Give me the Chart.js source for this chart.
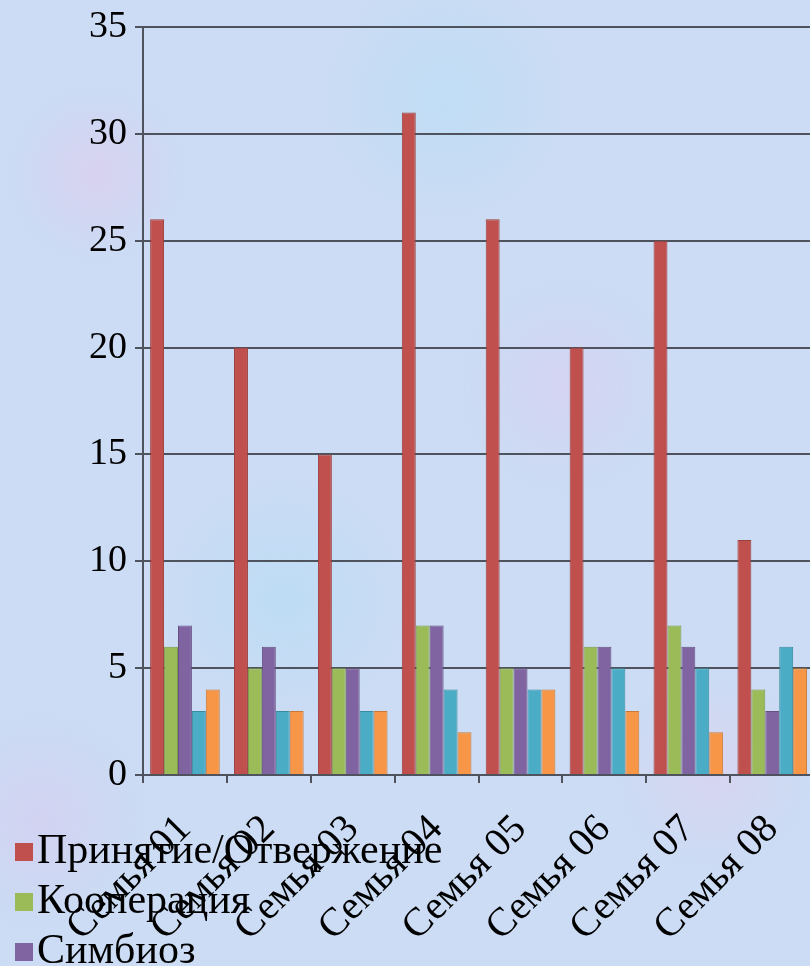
<!DOCTYPE html>
<html>
<head>
<meta charset="utf-8">
<script src="https://cdn.jsdelivr.net/npm/chart.js@4"></script>
<style>
  html, body { margin: 0; padding: 0; width: 810px; height: 966px; overflow: hidden; }
  body {
    background-color: #cbdcf4;
    background-image:
      radial-gradient(circle at 12% 18%, rgba(226, 200, 236, 0.55) 0, rgba(226, 200, 236, 0) 90px),
      radial-gradient(circle at 70% 40%, rgba(222, 204, 240, 0.5) 0, rgba(222, 204, 240, 0) 110px),
      radial-gradient(circle at 35% 62%, rgba(180, 220, 245, 0.6) 0, rgba(180, 220, 245, 0) 120px),
      radial-gradient(circle at 88% 80%, rgba(228, 206, 238, 0.5) 0, rgba(228, 206, 238, 0) 100px),
      radial-gradient(circle at 5% 85%, rgba(216, 200, 238, 0.5) 0, rgba(216, 200, 238, 0) 110px),
      radial-gradient(circle at 55% 10%, rgba(184, 222, 246, 0.6) 0, rgba(184, 222, 246, 0) 120px);
  }
  canvas { position: absolute; left: 0; top: 0; }
</style>
</head>
<body>
<canvas id="myChart" width="830" height="966"></canvas>
<script>
const families = ["Семья 01", "Семья 02", "Семья 03", "Семья 04", "Семья 05", "Семья 06", "Семья 07", "Семья 08"];
const acceptance = [26, 20, 15, 31, 26, 20, 25, 11];
const cooperation = [6, 5, 5, 7, 5, 6, 7, 4];
const symbiosis = [7, 6, 5, 7, 5, 6, 6, 3];
const hypersocial = [3, 3, 3, 4, 4, 5, 5, 6];
const littleLoser = [4, 3, 3, 2, 4, 3, 2, 5];
const yTicks = [0, 5, 10, 15, 20, 25, 30, 35];

const serif = "'Liberation Serif', 'Times New Roman', serif";
const gridColor = "#4e535d";

// draws the legend in the bottom left corner, over the axis labels like the original
const cornerLegend = {
  id: "cornerLegend",
  afterDraw(chart) {
    const c = chart.ctx;
    c.save();
    c.font = "42px " + serif;
    c.textBaseline = "alphabetic";
    chart.data.datasets.forEach((ds, i) => {
      const base = 863 + i * 50;
      c.fillStyle = ds.backgroundColor;
      c.fillRect(15, base - 20, 18, 18);
      c.fillStyle = "#000";
      c.fillText(ds.label, 37, base);
    });
    c.restore();
  },
};

const ctx = document.getElementById("myChart");

function bars(label, data, fill, edge) {
  return {
    label: label,
    data: data,
    backgroundColor: fill,
    borderColor: edge,
    borderWidth: 1,
    barPercentage: 1,
    categoryPercentage: 0.83,
  };
}

new Chart(ctx, {
  type: "bar",
  data: {
    labels: families,
    datasets: [
      bars("Принятие/Отвержение", acceptance, "#c0504d", "#9c3f3c"),
      bars("Кооперация", cooperation, "#9bbb59", "#7d9848"),
      bars("Симбиоз", symbiosis, "#8064a2", "#675083"),
      bars("Авторитарная гиперсоциализация", hypersocial, "#4bacc6", "#3b8ba0"),
      bars("Маленький неудачник", littleLoser, "#f79646", "#c97a38"),
    ],
  },
  plugins: [cornerLegend],
  options: {
    responsive: false,
    animation: false,
    layout: { padding: { left: 0, top: 19, right: 13, bottom: 0 } },
    plugins: {
      legend: { display: false },
      tooltip: { enabled: false },
    },
    scales: {
      x: {
        offset: true,
        grid: {
          offset: true,
          drawOnChartArea: false,
          drawTicks: true,
          tickLength: 8,
          color: gridColor,
          lineWidth: 2,
        },
        border: { color: gridColor, width: 2 },
        ticks: {
          color: "#000",
          font: { family: serif, size: 40 },
          minRotation: 45,
          maxRotation: 45,
          padding: 23,
        },
        afterFit(scale) {
          scale.height = 191;
        },
      },
      y: {
        min: 0,
        max: 35,
        afterBuildTicks(scale) {
          scale.ticks = yTicks.map((v) => ({ value: v }));
        },
        grid: {
          color: gridColor,
          lineWidth: 2,
          tickLength: 8,
        },
        border: { color: gridColor, width: 2 },
        ticks: {
          color: "#000",
          font: { family: serif, size: 38, lineHeight: 1 },
          padding: 8,
        },
        afterFit(scale) {
          scale.width = 143;
        },
      },
    },
  },
});
</script>
</body>
</html>
